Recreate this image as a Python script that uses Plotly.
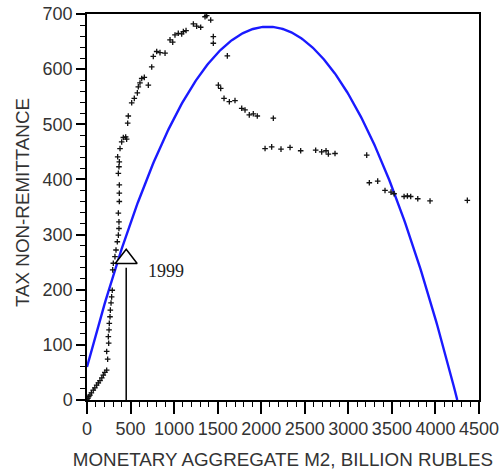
import plotly.graph_objects as go
import numpy as np

# Observed data: M2 (billion rubles) vs tax non-remittance
m2 = [0, 10, 20, 34, 50, 72, 90, 111, 130, 149, 170, 187, 205, 226, 237, 226, 249, 245,
      253, 256, 264, 268, 276, 283, 290, 295, 302, 321, 333, 348, 360, 367, 367, 360,
      371, 371, 371, 360, 367, 371, 352, 379, 398, 417, 444, 455, 467, 474, 513, 543,
      578, 589, 608, 628, 658, 704, 743, 761, 800, 838, 896, 953, 984, 1010, 1048, 1087,
      1106, 1137, 1221, 1259, 1305, 1355, 1374, 1420, 1450, 1450, 1611, 1508, 1535, 1573,
      1634, 1699, 1776, 1814, 1863, 1909, 1955, 2139, 2044, 2120, 2227, 2331, 2453, 2625,
      2694, 2744, 2771, 2847, 3211, 3241, 3337, 3421, 3490, 3525, 3640, 3678, 3716, 3797,
      3938, 4366]
tax = [0, 3, 6, 9, 13, 18, 22, 27, 31, 35, 40, 45, 50, 54, 74, 88, 103, 115,
       127, 139, 151, 163, 176, 187, 199, 236, 248, 260, 272, 287, 299, 311, 323, 339,
       360, 375, 390, 411, 423, 432, 441, 456, 468, 476, 477, 473, 502, 515, 539, 547,
       557, 568, 575, 583, 585, 571, 604, 623, 632, 630, 629, 653, 649, 662, 665, 664,
       668, 670, 682, 678, 676, 695, 697, 689, 659, 647, 624, 571, 565, 547,
       541, 543, 529, 526, 517, 519, 515, 511, 456, 459, 455, 458, 452, 453,
       450, 452, 446, 447, 444, 394, 397, 380, 377, 374, 369, 370, 369, 365,
       361, 362]

# Fitted quadratic: y = c0 + c1*x + c2*x^2
fit_coef = [60.0, 0.5944, -0.00014316]

# Annotation data
arrow_x = 450
arrow_head_y = 256
arrow_base_y = 240
label_text = "1999"
label_x = 910
label_y = 234
y_title = "TAX NON-REMITTANCE"
x_title = "MONETARY AGGREGATE M2, BILLION RUBLES"

c0, c1, c2 = fit_coef
root = (-c1 - np.sqrt(c1 * c1 - 4 * c2 * c0)) / (2 * c2)
xf = np.linspace(0, root, 300)
yf = c0 + c1 * xf + c2 * xf ** 2

fig = go.Figure()
fig.add_trace(go.Scatter(x=xf, y=yf, mode="lines",
                         line=dict(color="#1a1aff", width=2.4), hoverinfo="skip"))
fig.add_trace(go.Scatter(x=m2, y=tax, mode="markers",
                         marker=dict(symbol="cross-thin", size=4, color="#111111",
                                     line=dict(color="#111111", width=1.3)),
                         cliponaxis=False))
fig.add_trace(go.Scatter(x=[arrow_x, arrow_x], y=[0, arrow_base_y], mode="lines",
                         line=dict(color="black", width=1.5), hoverinfo="skip"))
fig.add_trace(go.Scatter(x=[arrow_x], y=[arrow_head_y], mode="markers",
                         marker=dict(symbol="triangle-up", size=19, color="white",
                                     line=dict(color="black", width=1.5))))
fig.add_annotation(x=label_x, y=label_y, text=label_text, showarrow=False,
                   font=dict(family="Liberation Serif, Times New Roman, serif",
                             size=18, color="#222"))
fig.add_annotation(x=0, y=0.5, xref="paper", yref="paper", text=y_title,
                   textangle=-90, showarrow=False, xanchor="center", yanchor="middle",
                   xshift=-65, yshift=4,
                   font=dict(family="Liberation Sans, Arial, sans-serif",
                             size=18.8, color="#333"))

axis_common = dict(showline=True, linecolor="black", linewidth=1.5, mirror=True,
                   ticks="outside", tickcolor="black", tickwidth=1.5,
                   showgrid=False, zeroline=False, automargin=False,
                   tickfont=dict(family="Liberation Sans, Arial, sans-serif",
                                 size=18, color="#333"))

fig.update_xaxes(range=[0, 4500], dtick=500, tick0=0, ticklen=12,
                 minor=dict(dtick=100, ticks="outside", ticklen=5, tickcolor="black",
                            tickwidth=1.2),
                 title=dict(text=x_title, standoff=16,
                            font=dict(family="Liberation Sans, Arial, sans-serif",
                                      size=18.8, color="#333")),
                 **axis_common)
fig.update_yaxes(range=[0, 700], dtick=100, tick0=0, ticklen=9,
                 minor=dict(dtick=20, ticks="outside", ticklen=5, tickcolor="black",
                            tickwidth=1.2),
                 **axis_common)

fig.update_layout(width=502, height=470, showlegend=False,
                  margin=dict(l=87, r=23, t=14, b=70),
                  plot_bgcolor="white", paper_bgcolor="white")

fig.write_html("out.html", config={"displayModeBar": False},
               post_script="document.body.style.margin='0';document.body.style.overflow='hidden';")
